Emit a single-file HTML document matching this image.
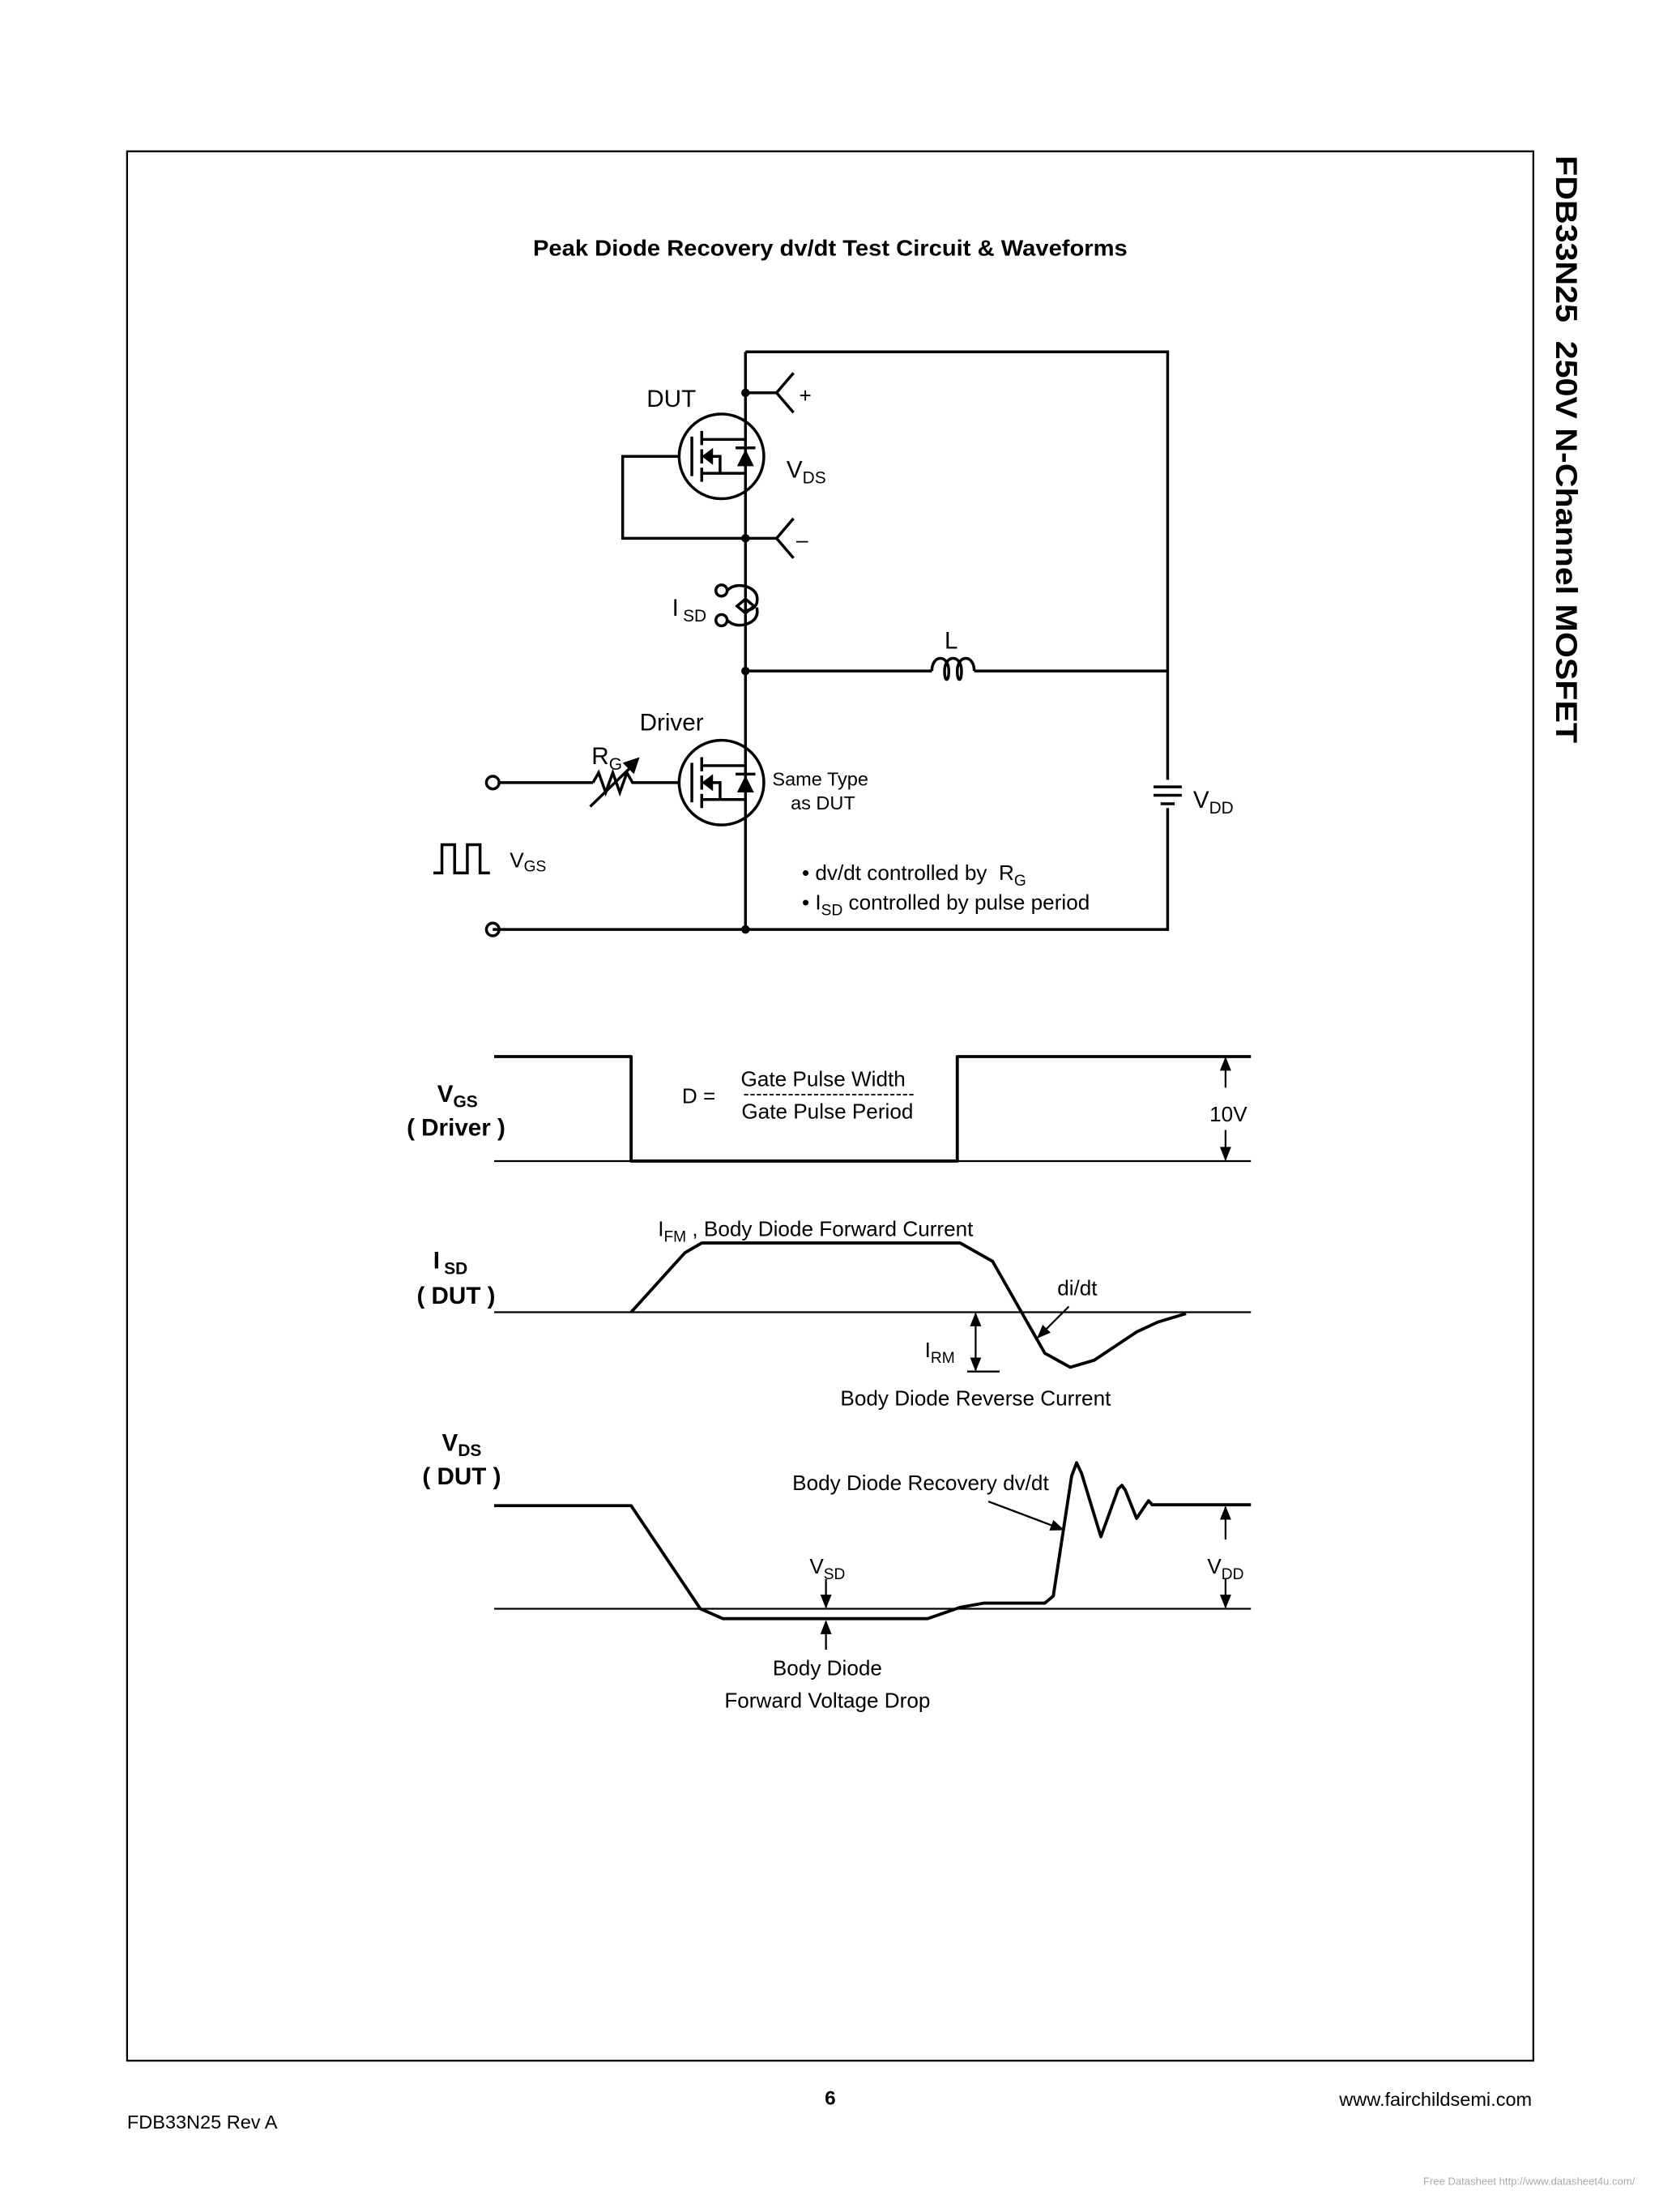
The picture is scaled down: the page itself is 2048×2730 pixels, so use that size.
<!DOCTYPE html>
<html><head><meta charset="utf-8"><style>
html,body{margin:0;padding:0;background:#fff;}
svg{display:block;}
text{font-family:"Liberation Sans",Arial,sans-serif;fill:#000;}
</style></head><body>
<svg width="2048" height="2730" viewBox="0 0 1175 1566" xmlns="http://www.w3.org/2000/svg">
<defs>
<marker id="ah" markerWidth="10" markerHeight="10" refX="9" refY="5" orient="auto" markerUnits="userSpaceOnUse"><path d="M0,1 L10,5 L0,9 z" fill="#000"/></marker>
</defs>
<rect x="90" y="107" width="996" height="1352" fill="none" stroke="#000" stroke-width="1.3"/>
<text x="588" y="181" font-size="16" font-weight="bold" text-anchor="middle" textLength="421" lengthAdjust="spacingAndGlyphs">Peak Diode Recovery dv/dt Test Circuit &amp; Waveforms</text>
<text transform="translate(1102,110) rotate(90)" font-size="21" font-weight="bold" textLength="416" lengthAdjust="spacingAndGlyphs">FDB33N25&#160;&#160;250V N-Channel MOSFET</text>

<g stroke="#000" stroke-width="2" fill="none">
<polyline points="528,249 827,249 827,552"/>
<polyline points="827,572 827,658 349,658"/>
<line x1="528" y1="249" x2="528" y2="658"/>
<line x1="528" y1="475" x2="660" y2="475"/>
<line x1="690" y1="475" x2="827" y2="475"/>
<path d="M660,475 c0,-12 12,-12 12,0 c0,8 -3,8 -3,0 c0,-12 12,-12 12,0 c0,8 -3,8 -3,0 c0,-12 12,-12 12,0"/>
<polyline points="528,278 550,278"/><polyline points="562,264 550,278 562,292"/>
<polyline points="528,381 550,381"/><polyline points="562,367 550,381 562,395"/>
<polyline points="481,323 441,323 441,381 528,381"/>
<circle cx="511" cy="418" r="4"/><circle cx="511" cy="439" r="4"/>
<path d="M515,418 q5,-5 13,-3 q10,3 8,12 q-2,5 -8,5"/>
<path d="M515,439 q5,5 13,3 q10,-3 8,-12"/>
<path d="M528,424 l-6,5 l6,5 l6,-5 z"/>
<circle cx="349" cy="554" r="4.5"/>
<line x1="353.5" y1="554" x2="420" y2="554"/>
<polyline points="420,554 424,547 429,561 434,547 439,561 444,547 448,554 481,554"/>
<circle cx="349" cy="658" r="4.5"/>
<polyline points="307,618 313,618 313,598 322,598 322,618 331,618 331,598 340,598 340,618 347,618"/>
<line x1="817" y1="557" x2="837" y2="557"/>
<line x1="817" y1="563" x2="837" y2="563"/>
<line x1="822" y1="569" x2="832" y2="569"/>
</g>
<line x1="418" y1="571" x2="450" y2="540" stroke="#000" stroke-width="2"/>
<path d="M453,536 l-12,4 l8,8 z" fill="#000"/>
<g fill="#000"><circle cx="528" cy="278" r="3"/><circle cx="528" cy="381" r="3"/><circle cx="528" cy="475" r="3"/><circle cx="528" cy="658" r="3"/></g>

<g stroke="#000" stroke-width="2" fill="none">
<circle cx="511" cy="323" r="30"/>
<line x1="490" y1="309" x2="490" y2="337"/>
<line x1="497" y1="305" x2="497" y2="315"/><line x1="497" y1="318" x2="497" y2="328"/><line x1="497" y1="331" x2="497" y2="341"/>
<line x1="497" y1="311" x2="528" y2="311"/><line x1="497" y1="335" x2="528" y2="335"/>
<polyline points="503,323 510,323 510,335"/>
<line x1="521" y1="317" x2="535" y2="317"/>
</g>
<path d="M497,323 l8,-6 v12 z M522,330 h12 l-6,-12 z" fill="#000"/>
<g stroke="#000" stroke-width="2" fill="none">
<circle cx="511" cy="554" r="30"/>
<line x1="490" y1="540" x2="490" y2="568"/>
<line x1="497" y1="536" x2="497" y2="546"/><line x1="497" y1="549" x2="497" y2="559"/><line x1="497" y1="562" x2="497" y2="572"/>
<line x1="497" y1="542" x2="528" y2="542"/><line x1="497" y1="566" x2="528" y2="566"/>
<polyline points="503,554 510,554 510,566"/>
<line x1="521" y1="548" x2="535" y2="548"/>
</g>
<path d="M497,554 l8,-6 v12 z M522,561 h12 l-6,-12 z" fill="#000"/>

<g font-size="17">
<text x="458" y="288">DUT</text>
<text x="557" y="338">V<tspan font-size="12" dy="4">DS</tspan></text>
<text x="566" y="285" font-size="15">+</text>
<text x="564" y="387" font-size="15">–</text>
<text x="476" y="436">I<tspan font-size="12" dx="3" dy="4">SD</tspan></text>
<text x="669" y="459">L</text>
<text x="453" y="517">Driver</text>
<text x="419" y="541">R<tspan font-size="12" dy="4">G</tspan></text>
<text x="845" y="572">V<tspan font-size="12" dy="4">DD</tspan></text>
<text x="361" y="614" font-size="15">V<tspan font-size="11" dy="3">GS</tspan></text>
</g>
<text x="547" y="556" font-size="13.5">Same Type</text>
<text x="560" y="573" font-size="13.5">as DUT</text>
<text x="568" y="623" font-size="15">• dv/dt controlled by&#160;&#160;R<tspan font-size="11" dy="4">G</tspan></text>
<text x="568" y="644" font-size="15">• I<tspan font-size="11" dy="4">SD</tspan><tspan dy="-4"> controlled by pulse period</tspan></text>

<g stroke="#000" stroke-width="1.3" fill="none">
<line x1="350" y1="822" x2="886" y2="822"/>
<line x1="350" y1="929" x2="886" y2="929"/>
<line x1="350" y1="1139" x2="886" y2="1139"/>
<line x1="685" y1="971" x2="708" y2="971"/>
<line x1="527" y1="775" x2="648" y2="775" stroke-dasharray="3,1.5" stroke-width="1"/>
</g>
<g stroke="#000" stroke-width="2.2" fill="none" stroke-linejoin="round">
<polyline points="350,748 447,748 447,822 678,822 678,748 886,748"/>
<polyline points="447,929 485,887 497,880 680,880 703,893 740,958 758,968 775,963 805,943 820,936 840,930"/>
<polyline points="350,1066 447,1066 496,1139 512,1146 657,1146 680,1138 697,1135 740,1135 746,1130 759,1045 762.5,1035.6 766,1043 779.7,1088 792,1054 794.6,1051.6 797,1055 805,1075 811,1066 813.5,1062.5 816,1065.4 886,1065.4"/>
</g>
<g stroke="#000" stroke-width="1.3" fill="none" marker-end="url(#ah)">
<line x1="868" y1="770" x2="868" y2="749"/>
<line x1="868" y1="800" x2="868" y2="821"/>
<line x1="691" y1="950" x2="691" y2="930"/>
<line x1="691" y1="950" x2="691" y2="970"/>
<line x1="757" y1="925" x2="735" y2="947"/>
<line x1="700" y1="1063" x2="753" y2="1083"/>
<line x1="585" y1="1118" x2="585" y2="1138"/>
<line x1="585" y1="1168" x2="585" y2="1148"/>
<line x1="868" y1="1090" x2="868" y2="1067"/>
<line x1="868" y1="1118" x2="868" y2="1138"/>
</g>

<g font-size="15">
<text x="324" y="780" font-size="17" font-weight="bold" text-anchor="middle">V<tspan font-size="12" dy="4">GS</tspan></text>
<text x="323" y="804" font-size="17" font-weight="bold" text-anchor="middle">( Driver )</text>
<text x="483" y="781">D =</text>
<text x="583" y="769" text-anchor="middle">Gate Pulse Width</text>
<text x="586" y="792" text-anchor="middle">Gate Pulse Period</text>
<text x="870" y="794" text-anchor="middle">10V</text>
<text x="319" y="898" font-size="17" font-weight="bold" text-anchor="middle">I<tspan font-size="12" dx="3" dy="4">SD</tspan></text>
<text x="323" y="923" font-size="17" font-weight="bold" text-anchor="middle">( DUT )</text>
<text x="466" y="875">I<tspan font-size="11" dy="4">FM</tspan><tspan dy="-4"> , Body Diode Forward Current</tspan></text>
<text x="763" y="917" text-anchor="middle">di/dt</text>
<text x="655" y="961">I<tspan font-size="11" dy="4">RM</tspan></text>
<text x="691" y="995" text-anchor="middle">Body Diode Reverse Current</text>
<text x="327" y="1027" font-size="17" font-weight="bold" text-anchor="middle">V<tspan font-size="12" dy="4">DS</tspan></text>
<text x="327" y="1051" font-size="17" font-weight="bold" text-anchor="middle">( DUT )</text>
<text x="652" y="1055" text-anchor="middle">Body Diode Recovery dv/dt</text>
<text x="586" y="1114" text-anchor="middle">V<tspan font-size="11" dy="4">SD</tspan></text>
<text x="868" y="1114" text-anchor="middle">V<tspan font-size="11" dy="4">DD</tspan></text>
<text x="586" y="1186" text-anchor="middle">Body Diode</text>
<text x="586" y="1209" text-anchor="middle">Forward Voltage Drop</text>
</g>

<text x="588" y="1490" font-size="14" font-weight="bold" text-anchor="middle">6</text>
<text x="1085" y="1491" font-size="13.5" text-anchor="end">www.fairchildsemi.com</text>
<text x="90" y="1507" font-size="13.5">FDB33N25 Rev A</text>
<text x="1158" y="1547" font-size="7.5" text-anchor="end" style="fill:#aaa">Free Datasheet http://www.datasheet4u.com/</text>
</svg>
</body></html>
